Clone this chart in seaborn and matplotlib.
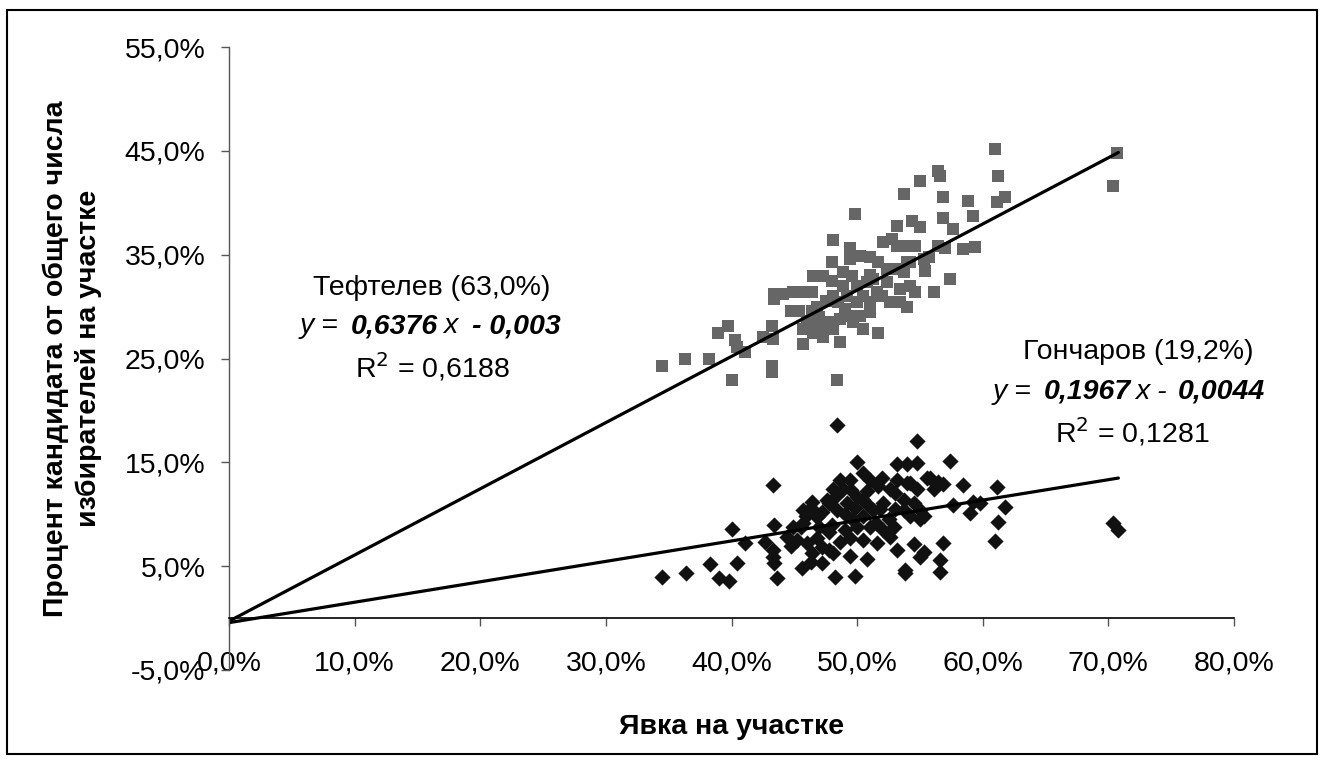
import numpy as np
import pandas as pd
import matplotlib
matplotlib.use('Agg')
import matplotlib.pyplot as plt
import seaborn as sns
from matplotlib.ticker import FuncFormatter
from matplotlib.patches import Rectangle

# turnout (x) and share of registered voters (y), in percent
teftelev_x = [55.0, 53.7, 49.8, 48.1, 34.5, 36.3, 38.2, 38.9, 39.7, 40.3, 40.4, 41.1, 40.0, 43.2, 43.2,
              42.5, 43.3, 43.2, 45.7, 48.4, 43.4, 43.4, 44.1, 44.9, 45.7, 46.4, 46.5, 47.3, 48.0, 48.1,
              44.7, 45.4, 46.4, 46.8, 45.7, 46.5, 47.3, 48.1, 48.6, 47.3, 49.4, 49.4, 50.2, 51.0, 51.7,
              48.9, 49.6, 48.9, 48.5, 49.2, 50.0, 50.5, 50.8, 51.3, 51.6, 51.0, 49.4, 50.2, 51.0, 50.5,
              49.7, 48.6, 47.8, 51.7, 52.4, 52.4, 53.2, 53.7, 54.2, 52.1, 52.8, 53.2, 53.2, 54.0, 54.6,
              54.4, 55.0, 55.4, 52.6, 53.4, 54.0, 53.4, 54.2, 54.6, 55.3, 46.0, 46.8, 61.0, 61.2, 70.7,
              70.4, 61.8, 61.1, 56.4, 56.6, 56.8, 58.8, 59.2, 56.8, 57.6, 56.4, 57.0, 58.4, 59.4, 55.7,
              54.0, 57.4, 56.1, 47.5, 49.0, 50.0, 51.0, 47.0, 52.0, 48.0]
teftelev_y = [42.1, 40.8, 38.9, 36.4, 24.3, 25.0, 25.0, 27.5, 28.1, 26.8, 26.1, 25.6, 22.9, 24.3, 23.7,
              27.1, 26.9, 28.1, 26.4, 22.9, 30.7, 31.2, 31.2, 31.4, 31.4, 31.4, 32.9, 32.9, 34.3, 31.0,
              29.6, 29.6, 29.6, 30.0, 27.8, 27.5, 27.8, 27.8, 26.6, 27.1, 35.6, 34.6, 34.9, 34.8, 34.3,
              33.3, 32.9, 32.0, 30.4, 31.0, 30.4, 31.0, 32.4, 32.7, 31.4, 30.4, 29.1, 29.1, 29.5, 27.8,
              28.5, 28.8, 28.5, 27.5, 32.4, 33.6, 33.6, 33.3, 34.3, 36.2, 36.5, 37.8, 35.8, 35.8, 35.8,
              38.2, 37.7, 33.4, 30.4, 30.4, 30.0, 31.7, 32.0, 31.4, 34.6, 28.6, 28.6, 45.2, 42.6, 44.8,
              41.6, 40.6, 40.1, 43.1, 42.6, 40.6, 40.2, 38.7, 38.5, 37.5, 35.8, 35.6, 35.5, 35.7, 34.8,
              34.3, 32.7, 31.4, 30.5, 29.8, 32.0, 33.0, 29.0, 31.0, 32.5]

goncharov_x = [48.4, 54.8, 43.3, 40.0, 34.5, 36.4, 38.3, 39.0, 39.8, 40.4, 41.1, 43.6, 43.4, 42.7, 43.3,
               43.3, 43.4, 45.6, 46.3, 47.2, 48.2, 48.1, 49.4, 50.8, 49.8, 53.8, 55.0, 55.3, 54.5, 53.2,
               52.6, 51.6, 50.5, 49.4, 48.6, 47.8, 46.8, 46.0, 45.2, 44.4, 44.9, 45.7, 45.7, 46.4, 47.2,
               46.8, 47.6, 48.1, 48.6, 47.8, 48.4, 49.2, 50.0, 50.5, 50.0, 50.5, 51.0, 51.7, 49.4, 48.9,
               49.6, 50.5, 51.3, 52.1, 52.6, 53.2, 54.0, 54.8, 53.2, 54.0, 54.8, 55.6, 53.7, 54.5, 55.0,
               54.2, 55.0, 52.1, 52.9, 51.0, 47.8, 47.2, 46.4, 44.7, 57.4, 55.8, 56.4, 56.8, 56.1, 58.4,
               61.1, 59.2, 59.8, 57.6, 59.0, 61.8, 61.2, 61.0, 70.4, 70.8, 54.2, 55.3, 53.7, 56.8, 56.6,
               56.6, 53.8, 46.3, 45.9, 45.5, 49.0, 49.8, 50.8, 51.5, 48.0, 47.0, 49.0, 50.0, 51.8, 48.3,
               49.5, 50.8, 52.0, 53.0, 52.5, 53.0]
goncharov_y = [18.6, 17.1, 12.8, 8.6, 4.0, 4.3, 5.2, 3.9, 3.6, 5.3, 7.2, 3.9, 9.0, 7.3, 6.6,
               5.9, 5.3, 4.8, 5.4, 5.3, 4.0, 6.3, 6.0, 5.7, 4.1, 4.3, 5.9, 6.4, 7.1, 6.6,
               7.8, 7.2, 7.5, 7.7, 7.3, 8.3, 7.7, 7.2, 7.5, 7.8, 8.8, 9.2, 10.4, 11.2, 10.2,
               9.7, 11.4, 12.4, 13.3, 11.1, 10.4, 11.1, 11.7, 11.4, 15.0, 14.0, 13.3, 12.7, 13.3, 12.4,
               9.5, 9.8, 10.4, 11.1, 12.4, 13.3, 13.0, 12.4, 14.8, 14.8, 14.9, 13.5, 11.4, 11.1, 10.4,
               9.8, 9.5, 8.5, 8.8, 8.8, 6.6, 6.8, 6.3, 6.9, 15.1, 13.5, 13.1, 12.9, 12.4, 12.8,
               12.6, 11.2, 11.1, 10.9, 10.1, 10.7, 9.3, 7.4, 9.2, 8.5, 13.0, 9.8, 10.4, 7.2, 5.6,
               4.4, 4.6, 10.6, 9.8, 8.8, 10.0, 10.6, 11.0, 9.2, 9.0, 8.8, 8.5, 8.8, 10.5, 11.8,
               12.3, 12.2, 13.5, 12.0, 9.5, 10.5]

# Excel linear trendlines shown on the chart
teftelev_fit = (0.6376, -0.003)
goncharov_fit = (0.1967, -0.0044)

x_ticks = [0.0, 0.1, 0.2, 0.3, 0.4, 0.5, 0.6, 0.7, 0.8]
y_ticks = [-0.05, 0.05, 0.15, 0.25, 0.35, 0.45, 0.55]

df_t = pd.DataFrame({'x': np.array(teftelev_x) / 100, 'y': np.array(teftelev_y) / 100})
df_g = pd.DataFrame({'x': np.array(goncharov_x) / 100, 'y': np.array(goncharov_y) / 100})

x_end = max(df_t['x'].max(), df_g['x'].max())
line_x = np.array([0.0, x_end])
df_lt = pd.DataFrame({'x': line_x, 'y': teftelev_fit[0] * line_x + teftelev_fit[1]})
df_lg = pd.DataFrame({'x': line_x, 'y': goncharov_fit[0] * line_x + goncharov_fit[1]})

sns.set_theme(style='white')
plt.rcParams['font.family'] = ['Liberation Sans', 'DejaVu Sans']
plt.rcParams['text.color'] = 'black'
plt.rcParams['axes.labelcolor'] = 'black'
plt.rcParams['xtick.labelcolor'] = 'black'
plt.rcParams['ytick.labelcolor'] = 'black'

FS = 20.5

fig = plt.figure(figsize=(13.21, 7.61), dpi=100)
ax = fig.add_axes([0.1734, 0.1196, 0.7607, 0.8186])

sns.scatterplot(data=df_t, x='x', y='y', marker='s', s=80, color='#666666', linewidth=0, ax=ax)
sns.scatterplot(data=df_g, x='x', y='y', marker='D', s=68, color='#111111', linewidth=0, ax=ax)
sns.lineplot(data=df_lt, x='x', y='y', color='black', linewidth=2.3, ax=ax)
sns.lineplot(data=df_lg, x='x', y='y', color='black', linewidth=2.3, ax=ax)

ax.set_xlim(0, 0.8)
ax.set_ylim(-0.05, 0.55)
ax.set_xticks(x_ticks)
ax.set_yticks(y_ticks)
pct = FuncFormatter(lambda v, p: f"{v * 100:.1f}%".replace('.', ','))
ax.xaxis.set_major_formatter(pct)
ax.yaxis.set_major_formatter(pct)

ax.spines['left'].set_position(('data', 0))
ax.spines['bottom'].set_position(('data', 0))
ax.spines['top'].set_visible(False)
ax.spines['right'].set_visible(False)
ax.spines['left'].set_color('#555555')
ax.spines['left'].set_linewidth(1.0)
ax.spines['bottom'].set_color('black')
ax.spines['bottom'].set_linewidth(1.2)
ax.tick_params(axis='y', direction='out', length=6, width=1, color='#555555', pad=11, labelsize=FS, left=True)
ax.tick_params(axis='x', direction='out', length=6, width=1, color='#555555', pad=17, labelsize=FS, bottom=True)

ax.set_xlabel('Явка на участке', fontsize=FS, fontweight='bold')
ax.set_ylabel('Процент кандидата от общего числа\nизбирателей на участке', fontsize=FS,
              fontweight='bold', linespacing=1.3)
ax.xaxis.set_label_coords(0.5, -0.07)
ax.yaxis.set_label_coords(-0.126, 0.5)


def equation(x0, y0, parts):
    # parts: (text, weight, gap before in points)
    prev = None
    for text, weight, gap in parts:
        kw = dict(fontsize=FS, style='italic', fontweight=weight, va='center', ha='left')
        if prev is None:
            prev = ax.text(x0, y0, text, **kw)
        else:
            kw['va'] = 'bottom'
            prev = ax.annotate(text, xy=(1, 0), xycoords=prev, xytext=(gap, 0),
                               textcoords='offset points', **kw)


ax.text(0.1616, 0.318, 'Тефтелев (63,0%)', fontsize=FS, ha='center', va='center')
equation(0.0565, 0.281, [('y =', 'normal', 0), ('0,6376', 'bold', 9),
                         ('x', 'normal', 3), ('- 0,003', 'bold', 11)])
ax.text(0.1616, 0.2415, 'R$^{2}$ = 0,6188', fontsize=FS, ha='center', va='center')

ax.text(0.724, 0.256, 'Гончаров (19,2%)', fontsize=FS, ha='center', va='center')
equation(0.608, 0.218, [('y =', 'normal', 0), ('0,1967', 'bold', 9),
                        ('x -', 'normal', 3), ('0,0044', 'bold', 8)])
ax.text(0.719, 0.179, 'R$^{2}$ = 0,1281', fontsize=FS, ha='center', va='center')

fig.patches.append(Rectangle((0.0053, 0.0092), 0.9917, 0.9777, transform=fig.transFigure,
                             fill=False, edgecolor='black', linewidth=1.5))

plt.rcParams['mathtext.fontset'] = 'custom'
plt.rcParams['mathtext.rm'] = 'Liberation Sans'

plt.savefig('out.png', dpi=100)
